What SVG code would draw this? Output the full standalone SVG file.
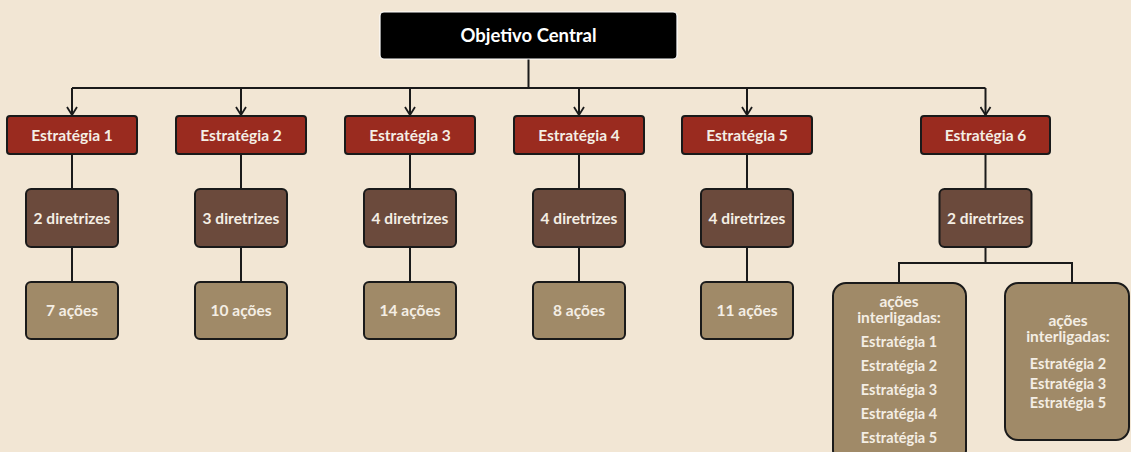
<svg xmlns="http://www.w3.org/2000/svg" width="1131" height="452" viewBox="0 0 1131 452">
  <style>
    .bg { fill: #f2e6d4; }
    .top { fill: #000000; stroke: #ffffff; stroke-width: 1.2; }
    .strat { fill: #9a2b1f; stroke: #1a1a1a; stroke-width: 2; }
    .dir { fill: #6b4a3c; stroke: #1a1a1a; stroke-width: 2; }
    .act { fill: #a08a68; stroke: #1a1a1a; stroke-width: 2; }
    .conn { fill: none; stroke: #1a1a1a; stroke-width: 2; }
    text { font-family: Lato, "Open Sans", sans-serif; font-weight: bold; fill: #f4eee4; text-anchor: middle; dominant-baseline: central; }
    .t14 { font-size: 15.5px; }
    .t13 { font-size: 14.5px; }
    .t17 { font-size: 18.5px; fill: #ffffff; }
  </style>
  <defs>
    <marker id="arrow" markerWidth="12" markerHeight="10" refX="6" refY="9" orient="0" markerUnits="userSpaceOnUse">
      <path d="M1,1 L6,9 L11,1" fill="none" stroke="#1a1a1a" stroke-width="1.8"/>
    </marker>
  </defs>

  <rect class="bg" x="0" y="0" width="1131" height="452"/>

  <!-- connectors -->
  <g id="connectors">
    <path class="conn" d="M528.5,59 V88"/>
    <path class="conn" d="M72,88 H985.5"/>
    <path class="conn" d="M72,88 V115" marker-end="url(#arrow)"/>
    <path class="conn" d="M241,88 V115" marker-end="url(#arrow)"/>
    <path class="conn" d="M410,88 V115" marker-end="url(#arrow)"/>
    <path class="conn" d="M579,88 V115" marker-end="url(#arrow)"/>
    <path class="conn" d="M747,88 V115" marker-end="url(#arrow)"/>
    <path class="conn" d="M985.5,88 V115" marker-end="url(#arrow)"/>

    <path class="conn" d="M72,154 V189 M72,247 V282"/>
    <path class="conn" d="M241,154 V189 M241,247 V282"/>
    <path class="conn" d="M410,154 V189 M410,247 V282"/>
    <path class="conn" d="M579,154 V189 M579,247 V282"/>
    <path class="conn" d="M747,154 V189 M747,247 V282"/>
    <path class="conn" d="M985.5,154 V189 M985.5,247 V263 M899,283 V263 H1072 V283"/>
  </g>

  <!-- root -->
  <g id="objetivo">
    <rect class="top" x="380" y="12" width="297" height="47" rx="4"/>
    <text class="t17" x="528.5" y="35">Objetivo Central</text>
  </g>

  <!-- strategies -->
  <g id="estrategia1">
    <rect class="strat" x="7" y="116" width="130" height="38" rx="3"/>
    <text class="t14" x="72" y="134.5">Estratégia 1</text>
  </g>
  <g id="estrategia2">
    <rect class="strat" x="176" y="116" width="130" height="38" rx="3"/>
    <text class="t14" x="241" y="134.5">Estratégia 2</text>
  </g>
  <g id="estrategia3">
    <rect class="strat" x="345" y="116" width="130" height="38" rx="3"/>
    <text class="t14" x="410" y="134.5">Estratégia 3</text>
  </g>
  <g id="estrategia4">
    <rect class="strat" x="514" y="116" width="130" height="38" rx="3"/>
    <text class="t14" x="579" y="134.5">Estratégia 4</text>
  </g>
  <g id="estrategia5">
    <rect class="strat" x="682" y="116" width="130" height="38" rx="3"/>
    <text class="t14" x="747" y="134.5">Estratégia 5</text>
  </g>
  <g id="estrategia6">
    <rect class="strat" x="921" y="116" width="129" height="38" rx="3"/>
    <text class="t14" x="985.5" y="134.5">Estratégia 6</text>
  </g>

  <!-- guidelines -->
  <g id="diretrizes1">
    <rect class="dir" x="26" y="189" width="92" height="58" rx="5"/>
    <text class="t14" x="72" y="217.5">2 diretrizes</text>
  </g>
  <g id="diretrizes2">
    <rect class="dir" x="195" y="189" width="92" height="58" rx="5"/>
    <text class="t14" x="241" y="217.5">3 diretrizes</text>
  </g>
  <g id="diretrizes3">
    <rect class="dir" x="364" y="189" width="92" height="58" rx="5"/>
    <text class="t14" x="410" y="217.5">4 diretrizes</text>
  </g>
  <g id="diretrizes4">
    <rect class="dir" x="533" y="189" width="92" height="58" rx="5"/>
    <text class="t14" x="579" y="217.5">4 diretrizes</text>
  </g>
  <g id="diretrizes5">
    <rect class="dir" x="701" y="189" width="92" height="58" rx="5"/>
    <text class="t14" x="747" y="217.5">4 diretrizes</text>
  </g>
  <g id="diretrizes6">
    <rect class="dir" x="939.5" y="189" width="92" height="58" rx="5"/>
    <text class="t14" x="985.5" y="217.5">2 diretrizes</text>
  </g>

  <!-- actions -->
  <g id="acoes1">
    <rect class="act" x="26" y="282" width="92" height="57" rx="5"/>
    <text class="t14" x="72" y="310">7 ações</text>
  </g>
  <g id="acoes2">
    <rect class="act" x="195" y="282" width="92" height="57" rx="5"/>
    <text class="t14" x="241" y="310">10 ações</text>
  </g>
  <g id="acoes3">
    <rect class="act" x="364" y="282" width="92" height="57" rx="5"/>
    <text class="t14" x="410" y="310">14 ações</text>
  </g>
  <g id="acoes4">
    <rect class="act" x="533" y="282" width="92" height="57" rx="5"/>
    <text class="t14" x="579" y="310">8 ações</text>
  </g>
  <g id="acoes5">
    <rect class="act" x="701" y="282" width="92" height="57" rx="5"/>
    <text class="t14" x="747" y="310">11 ações</text>
  </g>

  <g id="acoes6a">
    <rect class="act" x="833" y="283" width="133" height="180" rx="13"/>
    <text class="t14" x="899" y="301">ações</text>
    <text class="t14" x="899" y="317">interligadas:</text>
    <text class="t13" x="899" y="341">Estratégia 1</text>
    <text class="t13" x="899" y="365">Estratégia 2</text>
    <text class="t13" x="899" y="389">Estratégia 3</text>
    <text class="t13" x="899" y="413">Estratégia 4</text>
    <text class="t13" x="899" y="437">Estratégia 5</text>
  </g>
  <g id="acoes6b">
    <rect class="act" x="1005" y="283" width="124" height="157" rx="13"/>
    <text class="t14" x="1068" y="320">ações</text>
    <text class="t14" x="1068" y="336">interligadas:</text>
    <text class="t13" x="1068" y="363">Estratégia 2</text>
    <text class="t13" x="1068" y="383">Estratégia 3</text>
    <text class="t13" x="1068" y="402">Estratégia 5</text>
  </g>
</svg>
